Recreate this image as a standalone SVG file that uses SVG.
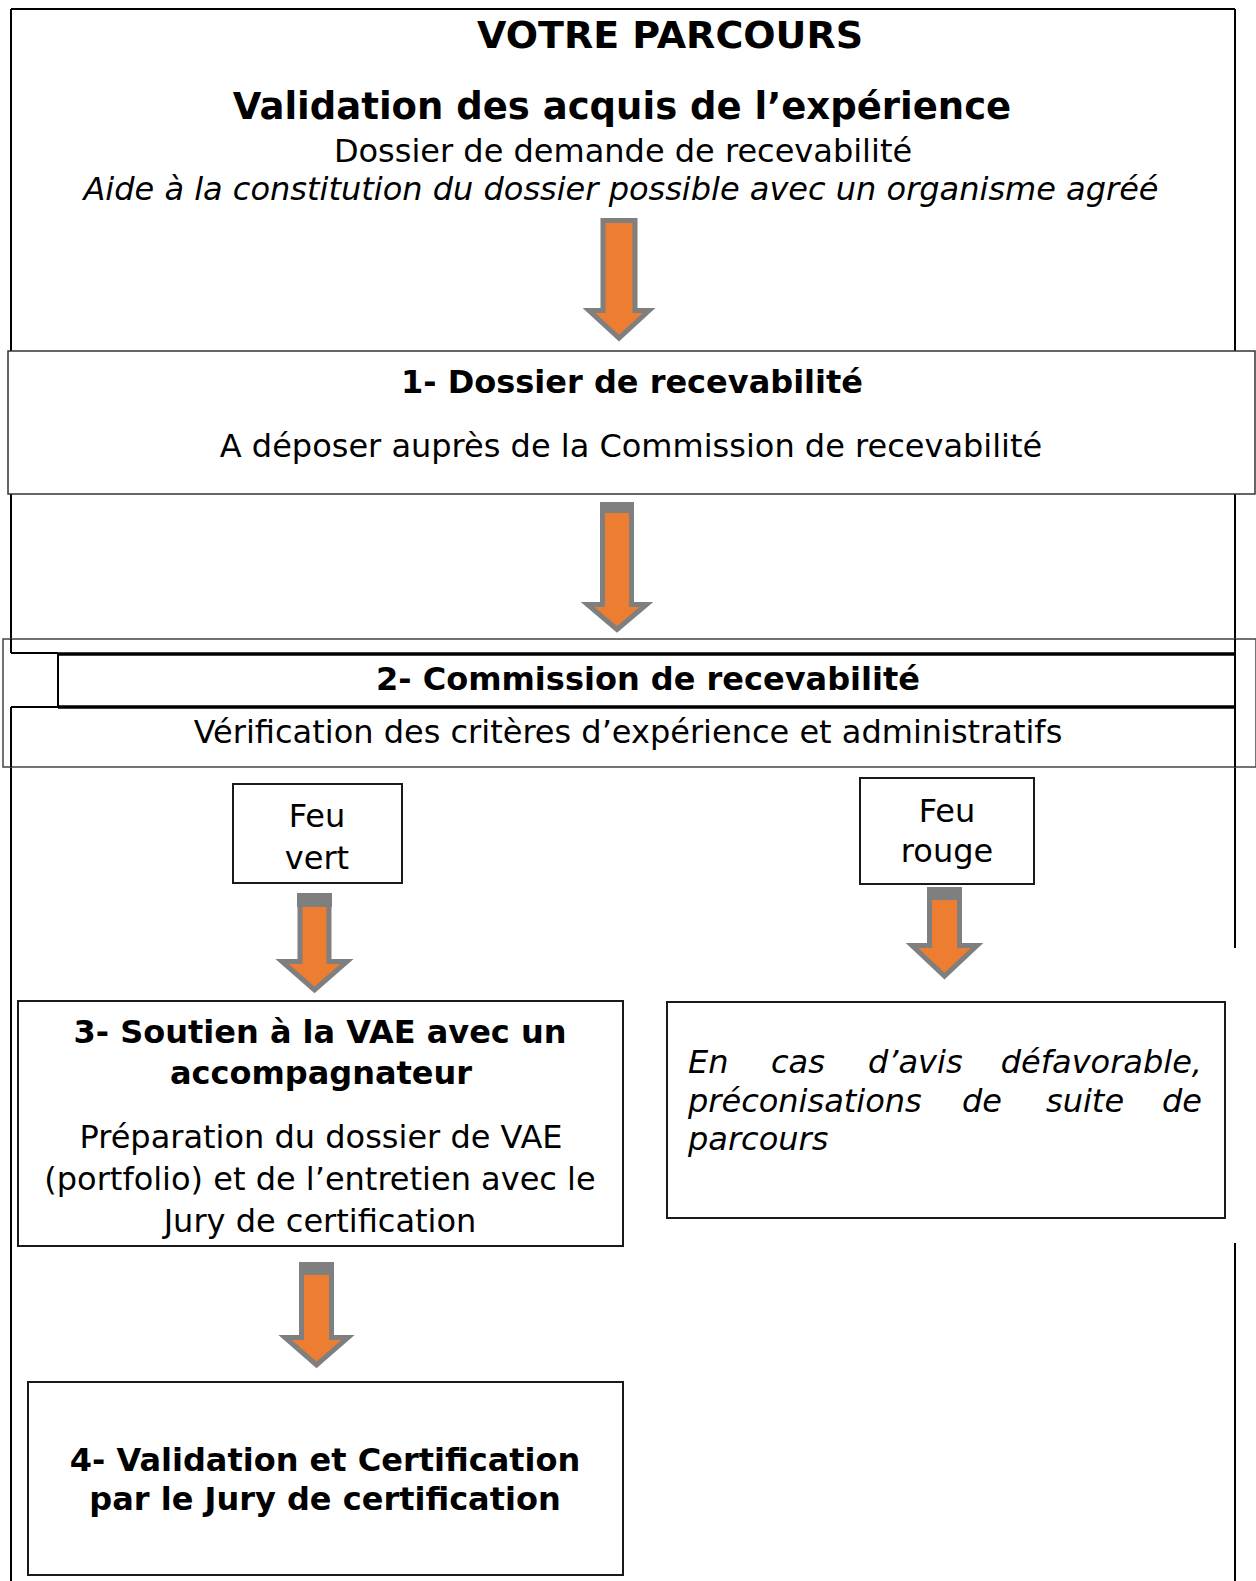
<svg xmlns="http://www.w3.org/2000/svg" width="1256" height="1581" viewBox="0 0 1256 1581">
<defs>
<style>
.t{font-family:"DejaVu Sans",Verdana,sans-serif;fill:#000;}
.b{font-weight:bold;}
.i{font-style:italic;}
.c{text-anchor:middle;}
.e{text-anchor:end;}
.s32{font-size:32px;}
.s37{font-size:37px;}
.s38{font-size:38px;}
.sf{font-size:32px;}
.frame{stroke:#000;stroke-width:2;fill:none;}
.box{fill:#fff;stroke:#1a1a1a;stroke-width:2;}
.arrow{fill:#ed7d31;stroke:#7f7f7f;stroke-width:5;stroke-linejoin:miter;}
.band{fill:#7f7f7f;}
</style>
</defs>
<rect width="1256" height="1581" fill="#fff"/>

<g id="frame">
<line class="frame" x1="11" y1="9" x2="1235" y2="9"/>
<line class="frame" x1="11" y1="9" x2="11" y2="653"/>
<line class="frame" x1="11" y1="707" x2="11" y2="1581"/>
<line class="frame" x1="1235" y1="9" x2="1235" y2="948"/>
<line class="frame" x1="1235" y1="1243" x2="1235" y2="1581"/>
</g>

<g id="header">
<text class="t b s38 c" x="670" y="48">VOTRE PARCOURS</text>
<text class="t b s37 c" x="622" y="119">Validation des acquis de l’expérience</text>
<text class="t s32 c" x="623" y="162">Dossier de demande de recevabilité</text>
<text class="t i s32 c" x="621" y="200">Aide à la constitution du dossier possible avec un organisme agréé</text>
</g>

<g id="node1">
<rect x="8" y="351" width="1247" height="143" fill="#fff" stroke="#333" stroke-width="1.5"/>
<text class="t b s32 c" x="632" y="393">1- Dossier de recevabilité</text>
<text class="t s32 c" x="631" y="457">A déposer auprès de la Commission de recevabilité</text>
</g>

<g id="node2">
<rect x="3" y="639" width="1253" height="128" fill="#fff" stroke="#444" stroke-width="1.5"/>
<line x1="11" y1="639" x2="11" y2="653" stroke="#000" stroke-width="2"/>
<line x1="11" y1="653" x2="58" y2="653" stroke="#000" stroke-width="1.8"/>
<line x1="58" y1="654" x2="1235" y2="654" stroke="#000" stroke-width="3.5"/>
<line x1="58" y1="653" x2="58" y2="707" stroke="#000" stroke-width="2"/>
<line x1="11" y1="707" x2="58" y2="707" stroke="#000" stroke-width="1.8"/>
<line x1="58" y1="707" x2="1235" y2="707" stroke="#000" stroke-width="3.5"/>
<line x1="11" y1="707" x2="11" y2="767" stroke="#000" stroke-width="2"/>
<line x1="1235" y1="639" x2="1235" y2="767" stroke="#000" stroke-width="2"/>
<text class="t b s32 c" x="648" y="690">2- Commission de recevabilité</text>
<text class="t s32 c" x="628" y="743">Vérification des critères d’expérience et administratifs</text>
</g>

<g id="feu-vert">
<rect class="box" x="233" y="784" width="169" height="99"/>
<text class="t sf c" x="317" y="827">Feu</text>
<text class="t sf c" x="317" y="869">vert</text>
</g>

<g id="feu-rouge">
<rect class="box" x="860" y="778" width="174" height="106"/>
<text class="t sf c" x="947" y="822">Feu</text>
<text class="t sf c" x="947" y="862">rouge</text>
</g>

<g id="node3">
<rect class="box" x="18" y="1001" width="605" height="245"/>
<text class="t b s32 c" x="320" y="1043">3- Soutien à la VAE avec un</text>
<text class="t b s32 c" x="321" y="1084">accompagnateur</text>
<text class="t s32 c" x="321" y="1148">Préparation du dossier de VAE</text>
<text class="t s32 c" x="320" y="1190">(portfolio) et de l’entretien avec le</text>
<text class="t s32 c" x="320" y="1232">Jury de certification</text>
</g>

<g id="node-defavorable">
<rect class="box" x="667" y="1002" width="558" height="216"/>
<text class="t i s32" x="688" y="1073">En</text>
<text class="t i s32" x="771" y="1073">cas</text>
<text class="t i s32" x="868" y="1073">d’avis</text>
<text class="t i s32 e" x="1202" y="1073">défavorable,</text>
<text class="t i s32" x="688" y="1112">préconisations</text>
<text class="t i s32" x="962" y="1112">de</text>
<text class="t i s32" x="1046" y="1112">suite</text>
<text class="t i s32 e" x="1202" y="1112">de</text>
<text class="t i s32" x="688" y="1150">parcours</text>
</g>

<g id="node4">
<rect class="box" x="28" y="1382" width="595" height="193"/>
<text class="t b s32 c" x="325" y="1471">4- Validation et Certification</text>
<text class="t b s32 c" x="325" y="1510">par le Jury de certification</text>
</g>

<g id="connectors">
<polygon class="arrow" points="603,220.5 635,220.5 635,310.5 649,310.5 619,338 589,310.5 603,310.5"/>

<polygon class="arrow" points="602.5,505 631.5,505 631.5,604.5 646.5,604.5 617,629.5 587.5,604.5 602.5,604.5"/>
<rect class="band" x="600" y="502" width="34" height="11"/>

<polygon class="arrow" points="300,896 329,896 329,961.5 347,961.5 314.5,990 282,961.5 300,961.5"/>
<rect class="band" x="297" y="893" width="35" height="14"/>

<polygon class="arrow" points="929.5,890 959.5,890 959.5,945.5 977,945.5 944.5,976 912,945.5 929.5,945.5"/>
<rect class="band" x="927" y="887" width="35" height="13"/>

<polygon class="arrow" points="301.5,1265 331.5,1265 331.5,1337.5 348,1337.5 316.5,1365 285,1337.5 301.5,1337.5"/>
<rect class="band" x="299" y="1262" width="35" height="13"/>
</g>
</svg>
